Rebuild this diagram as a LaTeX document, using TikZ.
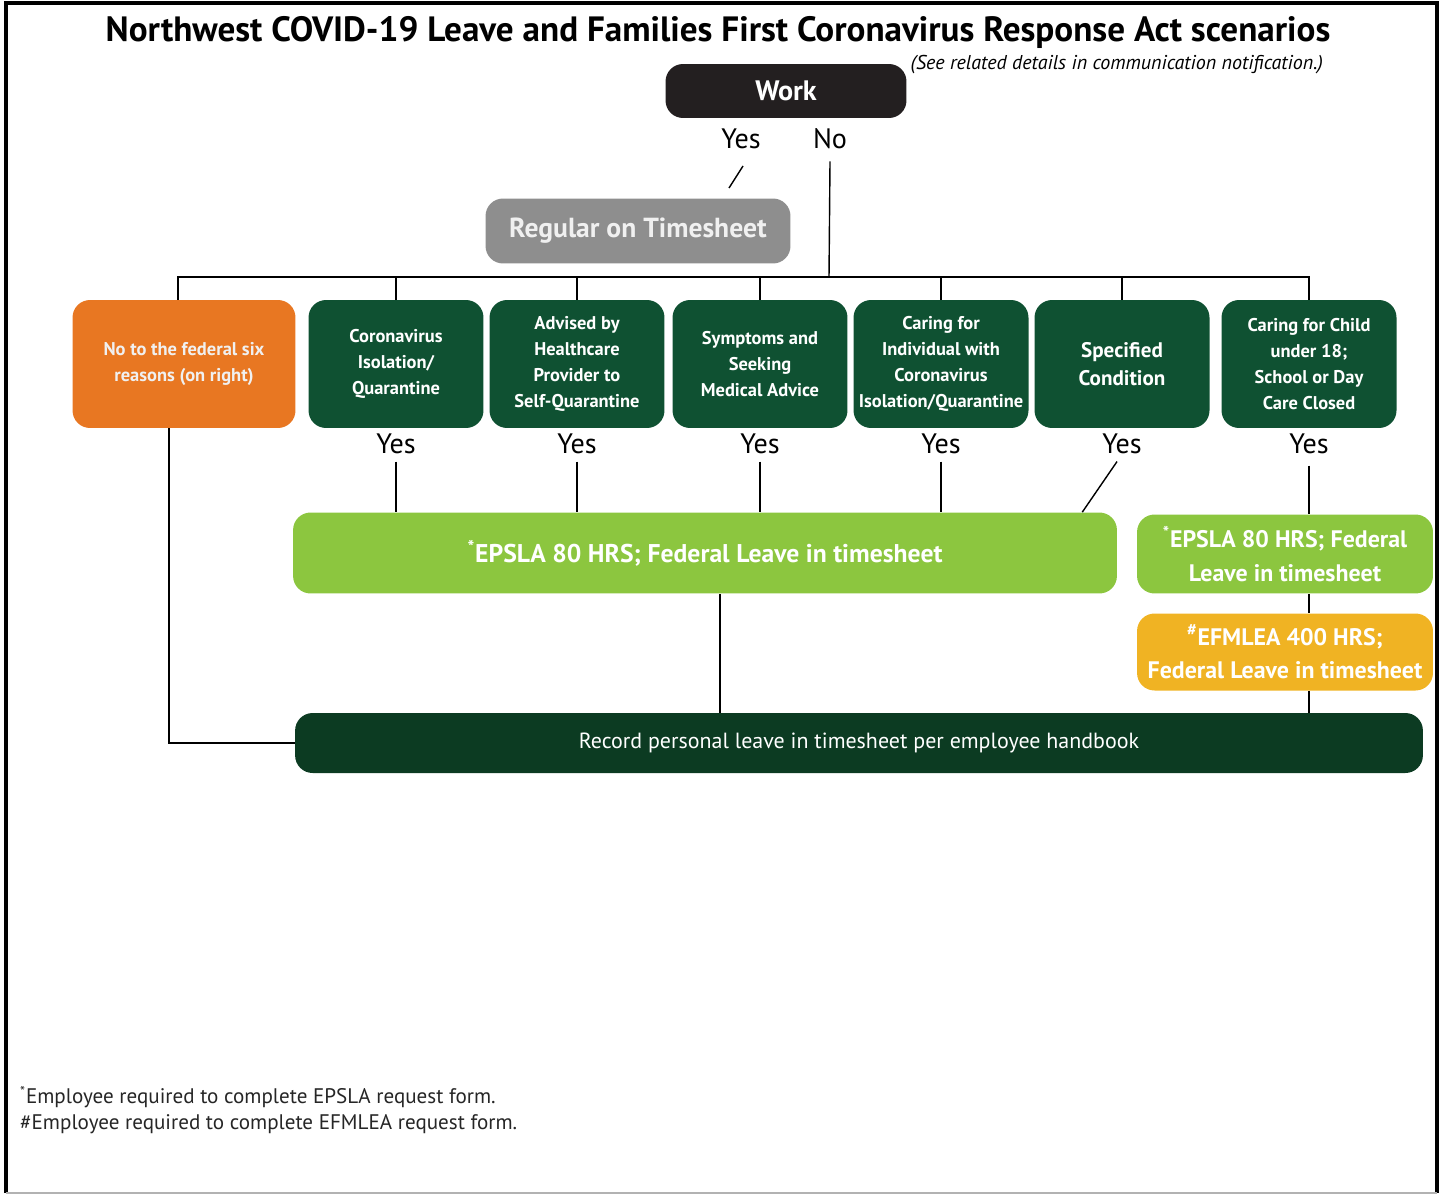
\documentclass[tikz,border=0pt]{standalone}
\usepackage{fontspec}
\setmainfont{PT Sans}
\usetikzlibrary{calc}
\definecolor{cblack}{HTML}{231F20}
\definecolor{cgray}{HTML}{8E8E8E}
\definecolor{cpale}{HTML}{F0F0F0}
\definecolor{corange}{HTML}{E87722}
\definecolor{cgreen}{HTML}{0F5132}
\definecolor{clime}{HTML}{8CC63F}
\definecolor{cgold}{HTML}{F0B323}
\definecolor{cdeep}{HTML}{0C3B22}
\begin{document}
\begin{tikzpicture}[x=0.02cm, y=-0.02cm,
  box/.style={rectangle, rounded corners=0.35cm, text=white, align=center, inner sep=0pt},
  reason/.style={box, fill=cgreen, minimum width=3.5cm, minimum height=2.56cm, font=\bfseries\fontsize{10.5}{14.7}\selectfont},
  leave/.style={box, minimum width=5.92cm, font=\bfseries\fontsize{13.6}{19}\selectfont},
  answer/.style={font=\fontsize{16}{18}\selectfont, inner sep=1pt},
  link/.style={line width=0.8pt}]
\useasboundingbox (0,0) rectangle (1442,1196);
% frame
\draw[line width=0.09cm] (6,1193) |- (1437,3) -- (1437,1193);
\draw[gray!60, line width=0.04cm] (6,1193) -- (1437,1193);

\node[font=\bfseries\fontsize{20}{22}\selectfont] (title) at (718,32)
  {Northwest COVID-19 Leave and Families First Coronavirus Response Act scenarios};
\node[font=\itshape\fontsize{11.4}{13}\selectfont, anchor=east] (see) at (1329,65)
  {(See related details in communication notification.)};

% top decision
\node[box, fill=cblack, minimum width=4.82cm, minimum height=1.08cm,
      font=\bfseries\fontsize{16}{18}\selectfont] (work) at (786,91) {Work};
\node[answer] (yesW) at (741,139) {Yes};
\node[answer] (noW) at (830,139) {No};
\node[box, fill=cgray, text=cpale, minimum width=6.1cm, minimum height=1.3cm,
      font=\bfseries\fontsize{15.7}{18}\selectfont] (reg) at (638,231) {Regular on Timesheet};
\coordinate (slashA) at (743,166);
\coordinate (slashB) at (729,188);
\coordinate (bus) at (829,277);
\draw[link] (slashA) -- (slashB);
\draw[link] ([yshift=-0.2cm]noW.south) -- (bus);

% reasons
\node[box, fill=corange, text=cpale, minimum width=4.46cm, minimum height=2.56cm,
      font=\bfseries\fontsize{10.5}{14.7}\selectfont] (noSix) at (184,364) {No to the federal six\\reasons (on right)};
\node[reason] (isolation) at (396,364) {Coronavirus\\Isolation/\\Quarantine};
\node[reason] (advised) at (577,364) {Advised by\\Healthcare\\Provider to\\Self-Quarantine};
\node[reason] (symptoms) at (760,364) {Symptoms and\\Seeking\\Medical Advice};
\node[reason] (caring) at (941,364) {Caring for\\Individual with\\Coronavirus\\Isolation/Quarantine};
\node[reason, font=\bfseries\fontsize{12}{16}\selectfont] (specified) at (1122,364) {Specified\\Condition};
\node[reason] (child) at (1309,364) {Caring for Child\\under 18;\\School or Day\\Care Closed};

\draw[link] ([xshift=-0.12cm]noSix.north) |- (bus) -| (child.north);
\foreach \n in {isolation,advised,symptoms,caring,specified}
  \draw[link] (\n.north) -- (\n.north |- bus);
\foreach \n in {isolation,advised,symptoms,caring,specified,child}
  \node[answer, anchor=north] (yes\n) at ([yshift=-0.06cm]\n.south) {Yes};

% leave
\node[box, fill=clime, minimum width=16.48cm, minimum height=1.62cm,
      font=\bfseries\fontsize{14.6}{18}\selectfont] (epsla) at (705,553)
  {\textsuperscript{*}EPSLA 80 HRS; Federal Leave in timesheet};
\node[leave, fill=clime, minimum height=1.58cm] (epslaR) at (1285,554)
  {\textsuperscript{*}EPSLA 80 HRS; Federal\\Leave in timesheet};
\node[leave, fill=cgold, minimum height=1.54cm] (efmlea) at (1285,652)
  {\textsuperscript{\#}EFMLEA 400 HRS;\\Federal Leave in timesheet};
\node[box, fill=cdeep, minimum width=22.56cm, minimum height=1.2cm,
      font=\fontsize{12.5}{16}\selectfont] (record) at (859,743)
  {Record personal leave in timesheet per employee handbook};

\foreach \n in {isolation,advised,symptoms,caring}
  \draw[link] ([yshift=-0.12cm]yes\n.south) -- (yes\n.south |- epsla.north);
\draw[link] ([xshift=-0.1cm, yshift=-0.12cm]yesspecified.south) -- ($(epsla.north east)+(-35,0)$);
\draw[link] ([yshift=-0.2cm]yeschild.south) -- (epslaR.north -| yeschild);
\draw[link] (epslaR.south -| yeschild) -- (efmlea.north -| yeschild);
\draw[link] (efmlea.south -| yeschild) -- (record.north -| yeschild);
\draw[link] ([xshift=0.3cm]epsla.south) -- ([xshift=0.3cm]epsla.south |- record.north);
\draw[link] ([xshift=-0.3cm]noSix.south) |- (record.west);

% footnotes
\node[anchor=west, font=\fontsize{12}{14}\selectfont, text=black!85] (footA) at (14,1097)
  {\textsuperscript{*}Employee required to complete EPSLA request form.};
\node[anchor=west, font=\fontsize{12}{14}\selectfont, text=black!85] (footB) at (14,1124)
  {\#Employee required to complete EFMLEA request form.};
\end{tikzpicture}
\end{document}
